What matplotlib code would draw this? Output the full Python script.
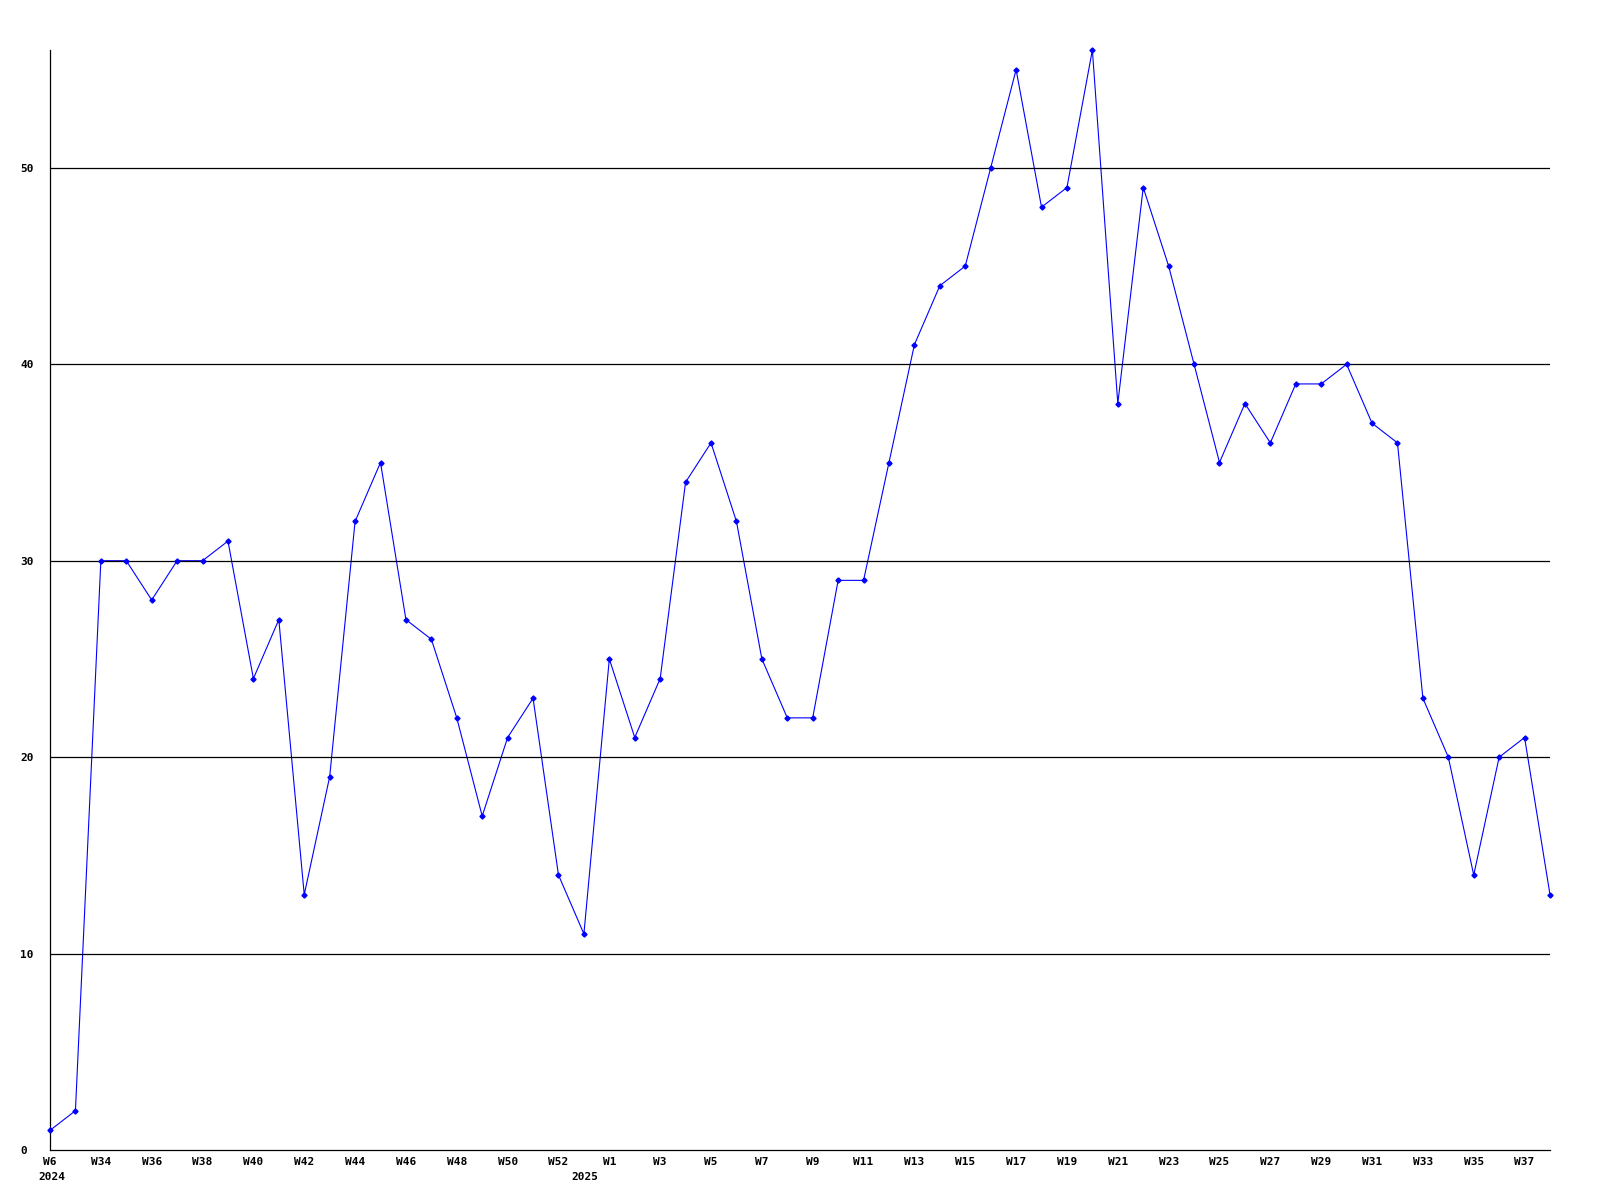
import matplotlib
matplotlib.use("Agg")
import matplotlib.pyplot as plt
import numpy as np

# weekly counts, one entry per plotted week
values = [1, 2, 30, 30, 28, 30, 30, 31, 24, 27,
          13, 19, 32, 35, 27, 26, 22, 17, 21, 23,
          14, 11, 25, 21, 24, 34, 36, 32, 25, 22,
          22, 29, 29, 35, 41, 44, 45, 50, 55, 48,
          49, 56, 38, 49, 45, 40, 35, 38, 36, 39,
          39, 40, 37, 36, 23, 20, 14, 20, 21, 13]

# labels shown on every second week
tick_labels = ["W6", "W34", "W36", "W38", "W40", "W42", "W44", "W46", "W48", "W50",
               "W52", "W1", "W3", "W5", "W7", "W9", "W11", "W13", "W15", "W17",
               "W19", "W21", "W23", "W25", "W27", "W29", "W31", "W33", "W35", "W37"]
years = ["2024", "2025"]
year_pos = [0, 21]

y_grid = [10, 20, 30, 40, 50]
y_ticks = [0, 10, 20, 30, 40, 50]

x = np.arange(len(values))

fig = plt.figure(figsize=(16, 12), dpi=100)
ax = fig.add_axes([50 / 1600, 1 - 1150 / 1200, 1500 / 1600, 1100 / 1200])

ax.plot(x, values, color="#0000ff", lw=0.8, zorder=1)
for g in y_grid:
    ax.axhline(g, color="black", lw=0.9, zorder=2)
ax.plot(x, values, ls="none", marker="D", ms=2.6, color="#0000ff",
        zorder=3, clip_on=False)

ax.set_xlim(0, len(values) - 1)
ax.set_ylim(0, 56)

for side in ["top", "right"]:
    ax.spines[side].set_visible(False)
for side in ["left", "bottom"]:
    ax.spines[side].set_linewidth(0.9)

font = dict(family="DejaVu Sans Mono", weight="bold", size=8)

ax.set_yticks(y_ticks)
ax.set_yticklabels([str(v) for v in y_ticks], **font)
ax.tick_params(axis="y", length=0, pad=21.6)
for lab in ax.get_yticklabels():
    lab.set_horizontalalignment("left")

ax.set_xticks(x[::2])
ax.set_xticklabels(tick_labels, **font)
ax.tick_params(axis="x", length=0, pad=5)

for yr, pos in zip(years, year_pos):
    ax.annotate(yr, xy=(pos, 0), xycoords="data", xytext=(1, -16),
                textcoords="offset points", ha="center", va="top", **font)

fig.savefig("out.png", dpi=100, facecolor="white")
